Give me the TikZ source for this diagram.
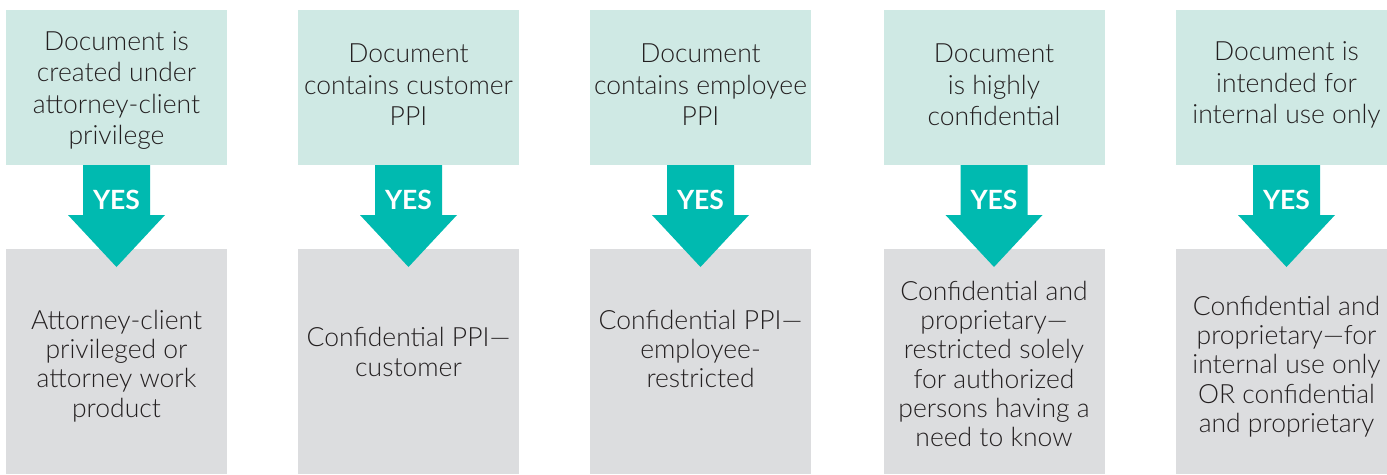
\documentclass[tikz,border=0pt]{standalone}
\usepackage{fontspec}
\setmainfont{Lato}[UprightFont=* Light, BoldFont=* Bold]
\usetikzlibrary{positioning, calc}

\definecolor{qfill}{RGB}{207,233,228}
\definecolor{afill}{RGB}{220,221,223}
\definecolor{yesteal}{RGB}{0,186,176}
\definecolor{ink}{RGB}{35,31,32}

\begin{document}
\begin{tikzpicture}
[
    x=1pt, y=-1pt, node distance=84pt, auto,
    % Question boxes are named Q-1 ... Q-5
    % Answer boxes are named A-1 ... A-5, their texts L-1 ... L-5
    % Arrow tips are named P-1 ... P-5
]

%=================================== Start ===================================
\tikzstyle{qbox}    = [fill=qfill, minimum width=221pt, minimum height=155pt, inner sep=0pt, outer sep=0pt]
\tikzstyle{qtext}   = [align=center, text=ink, inner sep=0pt, font=\fontsize{26.5}{31.5}\selectfont]
\tikzstyle{abox}    = [fill=afill, minimum width=221pt, minimum height=225pt, inner sep=0pt, outer sep=0pt]
\tikzstyle{atext}   = [align=center, text=ink, inner sep=0pt, font=\fontsize{26.5}{29.3}\selectfont]
\tikzstyle{yesarrow}= [fill=yesteal]
\tikzstyle{yestext} = [text=white, inner sep=0pt, font=\fontsize{26.5}{30}\selectfont\bfseries]

\useasboundingbox (0,0) rectangle (1387,474);
\clip (0,0) rectangle (1387,474);

{
    % Draw question boxes
    \foreach \x / \cx in {1/116.5, 2/408.5, 3/700.5, 4/994, 5/1286.5}
        \node[qbox] (Q-\x) at (\cx,87.5) {};

    % Question texts, shifted a little in each box
    \foreach \x / \dy / \txt in {
        1/3/{Document is\\created under\\attorney-client\\privilege},
        2/-2.5/{Document\\contains customer\\PPI},
        3/-2.5/{Document\\contains employee\\PPI},
        4/-2.5/{Document\\is highly\\confidential},
        5/-2.5/{Document is\\intended for\\internal use only}}
        \node[qtext] (K-\x) at ($(Q-\x.center)+(0,\dy)$) {\txt};

    % Draw answer boxes
    \foreach \x in {1,...,5}
        \node[abox, below=of Q-\x] (A-\x) {};

    % Answer texts, shifted a little in each box
    \foreach \x / \dy / \txt in {
        1/4.5/{Attorney-client\\privileged or\\attorney work\\product},
        2/-9.5/{Confidential PPI—\\customer},
        3/-12.5/{Confidential PPI—\\employee-\\restricted},
        4/2.5/{Confidential and\\proprietary—\\restricted solely\\for authorized\\persons having a\\need to know},
        5/5/{Confidential and\\proprietary—for\\internal use only\\OR confidential\\and proprietary}}
        \node[atext] (L-\x) at ($(A-\x.center)+(0,\dy)$) {\txt};

    % YES arrows from question to answer
    \foreach \x in {1,...,5} {
        \coordinate (P-\x) at ($(A-\x.north)+(0,18)$);
        \fill[yesarrow] ($(Q-\x.south)+(-33.5,0)$) -- ++(0,50) -- ++(-15,0) -- (P-\x)
              -- ($(Q-\x.south)+(48.5,50)$) -- ++(-15,0) -- ($(Q-\x.south)+(33.5,0)$) -- cycle;
        \node[yestext] (Y-\x) at ($(Q-\x.south)+(0,35)$) {YES};
    }
}
%==================================== END ====================================

\end{tikzpicture}
\end{document}
